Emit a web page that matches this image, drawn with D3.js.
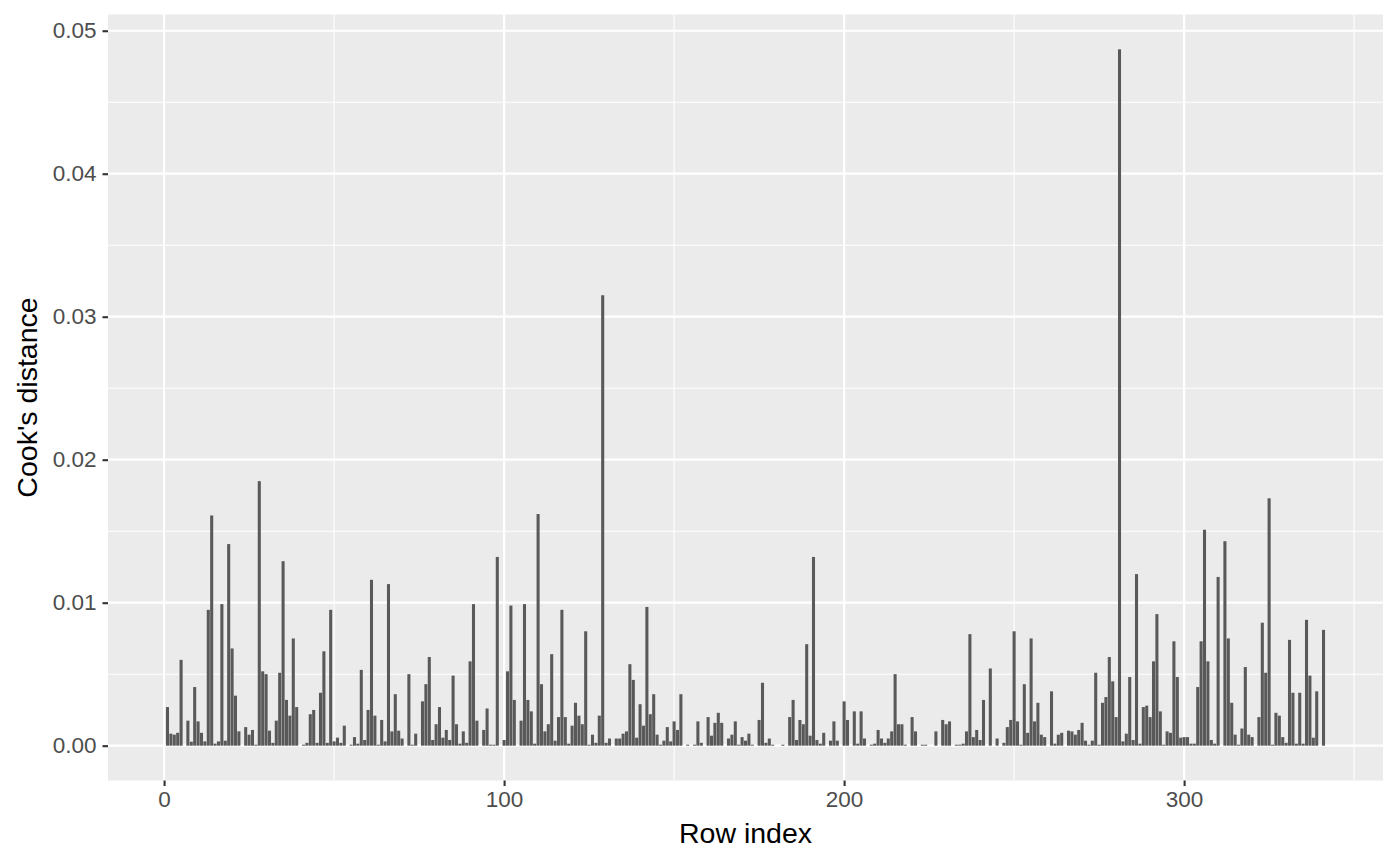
<!DOCTYPE html>
<html>
<head>
<meta charset="utf-8">
<script src="https://cdn.jsdelivr.net/npm/d3@7"></script>
<style>
  html, body { margin: 0; padding: 0; background: #fff; }
  svg { display: block; }
  text { font-family: "Liberation Sans", Arial, Helvetica, sans-serif; }
</style>
</head>
<body>
<svg id="chart" width="1400" height="865"></svg>
<script>
// Cook's distance per row (row index = position + 1)
const cooksDistance = [
  0.0027, 0.00084, 0.00077, 0.0009, 0.006, 0, 0.00175, 0.00028, 0.0041, 0.0017,
  0.0009, 0.0003, 0.0095, 0.0161, 0.00014, 0.0003, 0.0099, 0.00035, 0.0141, 0.0068,
  0.0035, 0.001, 0, 0.0013, 0.00077, 0.0011, 0.00007, 0.0185, 0.0052, 0.005,
  0.00105, 0.0002, 0.00175, 0.0051, 0.0129, 0.0032, 0.0021, 0.0075, 0.0027, 0,
  0.00007, 0.0002, 0.0022, 0.0025, 0.0002, 0.0037, 0.0066, 0.0002, 0.0095, 0.0003,
  0.00056, 0.0002, 0.0014, 0, 0.00007, 0.0006, 0.00014, 0.0053, 0.0004, 0.0025,
  0.0116, 0.0021, 0.00007, 0.0018, 0.0003, 0.0113, 0.001, 0.0036, 0.00105, 0.0005,
  0, 0.005, 0.00007, 0.00084, 0, 0.0031, 0.0043, 0.0062, 0.0004, 0.0015,
  0.0027, 0.00056, 0.0011, 0.0004, 0.0049, 0.0015, 0.00014, 0.001, 0.0002, 0.0059,
  0.0099, 0.00175, 0, 0.0011, 0.0026, 0.00007, 0.00007, 0.0132, 0, 0.0004,
  0.0052, 0.0098, 0.0032, 0, 0.00175, 0.0099, 0.0032, 0.0024, 0.00014, 0.0162,
  0.0043, 0.001, 0.0015, 0.0064, 0.00035, 0.002, 0.0095, 0.002, 0.00014, 0.0014,
  0.003, 0.0021, 0.0015, 0.008, 0.00007, 0.00077, 0.0002, 0.0021, 0.0315, 0.0002,
  0.0005, 0, 0.0005, 0.0005, 0.00084, 0.001, 0.0057, 0.0046, 0.00056, 0.0029,
  0.0014, 0.0097, 0.0022, 0.0036, 0.00077, 0.00007, 0.00035, 0.0013, 0.0003, 0.0017,
  0.0011, 0.0036, 0, 0.00007, 0, 0.00007, 0.0017, 0.0002, 0, 0.002,
  0.0007, 0.0016, 0.0023, 0.0016, 0, 0.0005, 0.00077, 0.0017, 0.00007, 0.0006,
  0.00035, 0.00084, 0.00007, 0, 0.0018, 0.0044, 0.0002, 0.0005, 0.00007, 0,
  0, 0.00007, 0, 0.002, 0.0032, 0.0004, 0.0018, 0.0015, 0.0071, 0.0007,
  0.0132, 0.0004, 0.00014, 0.0009, 0, 0.00035, 0.0017, 0.00035, 0, 0.0031,
  0.0018, 0, 0.0024, 0.00014, 0.0024, 0.0005, 0, 0.00007, 0.00014, 0.0011,
  0.0005, 0.0002, 0.0005, 0.001, 0.005, 0.0015, 0.0015, 0.00007, 0, 0.002,
  0.001, 0, 0.00007, 0.00007, 0, 0, 0.001, 0, 0.0018, 0.0015,
  0.0017, 0, 0.00007, 0.00007, 0.00014, 0.001, 0.0078, 0.0006, 0.0011, 0.0004,
  0.0032, 0, 0.0054, 0, 0.0005, 0, 0.0002, 0.0013, 0.0018, 0.008,
  0.0017, 0.00007, 0.0043, 0.0009, 0.0075, 0.0017, 0.003, 0.00077, 0.0006, 0,
  0.0038, 0.00014, 0.00077, 0.0009, 0, 0.00105, 0.001, 0.00077, 0.0011, 0.0016,
  0.00035, 0.00007, 0.00035, 0.0051, 0.00007, 0.003, 0.0034, 0.0062, 0.0045, 0.002,
  0.0487, 0.0003, 0.00084, 0.0048, 0.0004, 0.012, 0.00014, 0.0027, 0.0028, 0.002,
  0.0059, 0.0092, 0.0024, 0.00007, 0.001, 0.0009, 0.0073, 0.0048, 0.00056, 0.0006,
  0.0006, 0.00014, 0.00014, 0.0041, 0.0073, 0.0151, 0.0059, 0.0004, 0.00014, 0.0118,
  0, 0.0143, 0.0075, 0.003, 0.00077, 0.00007, 0.0012, 0.0055, 0.00077, 0.0006,
  0, 0.002, 0.0086, 0.0051, 0.0173, 0.00007, 0.0023, 0.0021, 0.0006, 0.0002,
  0.0074, 0.0037, 0.00014, 0.0037, 0.00014, 0.0088, 0.0049, 0.00056, 0.0038, 0,
  0.0081
];

const xTicks = [0, 100, 200, 300];
const xMinor = [50, 150, 250, 350];
const yTicks = [0, 0.01, 0.02, 0.03, 0.04, 0.05];
const yMinor = [0.005, 0.015, 0.025, 0.035, 0.045];
const xTitle = "Row index";
const yTitle = "Cook's distance";

const rows = cooksDistance.map((v, i) => ({ row: i + 1, value: v }));

const svg = d3.select("#chart");
const panel = { left: 108, right: 1383, top: 14.5, bottom: 780.5 };
const barWidth = 0.9;

// ggplot style: 5% expansion on both axes
const xLo = 1 - barWidth / 2, xHi = rows.length + barWidth / 2;
const xPad = (xHi - xLo) * 0.05;
const x = d3.scaleLinear()
  .domain([xLo - xPad, xHi + xPad])
  .range([panel.left, panel.right]);

const yMax = d3.max(cooksDistance);
const yPad = yMax * 0.05;
const y = d3.scaleLinear()
  .domain([-yPad, yMax + yPad])
  .range([panel.bottom, panel.top]);

// panel background
svg.append("rect")
  .attr("x", panel.left).attr("y", panel.top)
  .attr("width", panel.right - panel.left)
  .attr("height", panel.bottom - panel.top)
  .attr("fill", "#EBEBEB");

const grid = svg.append("g");

grid.selectAll("line.ymin").data(yMinor).join("line")
  .attr("x1", panel.left).attr("x2", panel.right)
  .attr("y1", d => y(d)).attr("y2", d => y(d))
  .attr("stroke", "#fff").attr("stroke-width", 1.1);

grid.selectAll("line.xmin").data(xMinor).join("line")
  .attr("y1", panel.top).attr("y2", panel.bottom)
  .attr("x1", d => x(d)).attr("x2", d => x(d))
  .attr("stroke", "#fff").attr("stroke-width", 1.1);

grid.selectAll("line.ymaj").data(yTicks).join("line")
  .attr("x1", panel.left).attr("x2", panel.right)
  .attr("y1", d => y(d)).attr("y2", d => y(d))
  .attr("stroke", "#fff").attr("stroke-width", 2.2);

grid.selectAll("line.xmaj").data(xTicks).join("line")
  .attr("y1", panel.top).attr("y2", panel.bottom)
  .attr("x1", d => x(d)).attr("x2", d => x(d))
  .attr("stroke", "#fff").attr("stroke-width", 2.2);

// bars
svg.append("g")
  .selectAll("rect")
  .data(rows.filter(d => d.value > 0))
  .join("rect")
  .attr("x", d => x(d.row - barWidth / 2))
  .attr("width", d => x(d.row + barWidth / 2) - x(d.row - barWidth / 2))
  .attr("y", d => y(d.value))
  .attr("height", d => y(0) - y(d.value))
  .attr("fill", "#595959");

// axes
const yAxis = svg.append("g")
  .attr("transform", `translate(${panel.left},0)`)
  .call(d3.axisLeft(y).tickValues(yTicks).tickFormat(d3.format(".2f")).tickSize(5.5).tickPadding(6));

const xAxis = svg.append("g")
  .attr("transform", `translate(0,${panel.bottom})`)
  .call(d3.axisBottom(x).tickValues(xTicks).tickFormat(d3.format("d")).tickSize(5.5).tickPadding(5));

[yAxis, xAxis].forEach(ax => {
  ax.select(".domain").remove();
  ax.selectAll(".tick line").attr("stroke", "#333333").attr("stroke-width", 2.1);
  ax.selectAll(".tick text")
    .attr("fill", "#4D4D4D")
    .style("font-size", "22.5px");
});

// axis titles
svg.append("text")
  .attr("x", (panel.left + panel.right) / 2)
  .attr("y", 843)
  .attr("text-anchor", "middle")
  .style("font-size", "28.5px")
  .attr("fill", "#000")
  .text(xTitle);

svg.append("text")
  .attr("transform", `translate(37,${(panel.top + panel.bottom) / 2}) rotate(-90)`)
  .attr("text-anchor", "middle")
  .style("font-size", "28.5px")
  .attr("fill", "#000")
  .text(yTitle);
</script>
</body>
</html>
